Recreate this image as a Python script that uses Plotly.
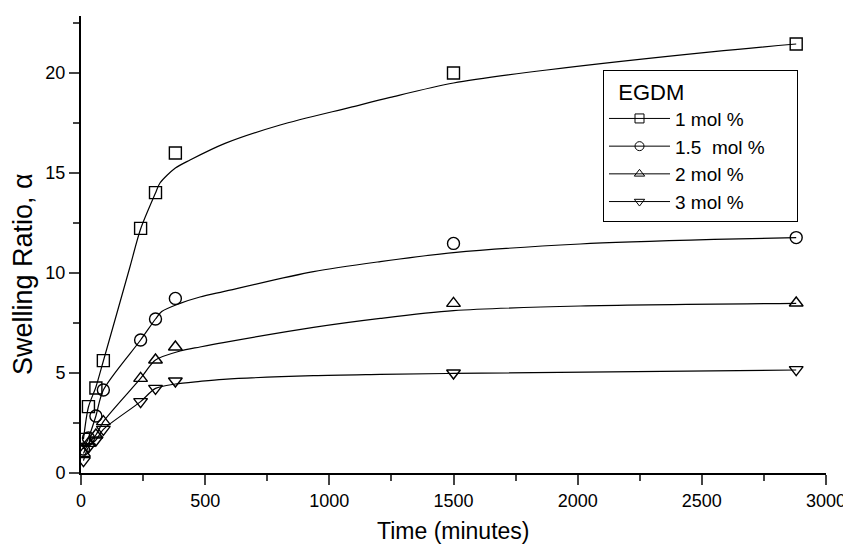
import plotly.graph_objects as go

# measured data points
time_min = [10, 30, 60, 90, 240, 300, 380, 1500, 2880]
egdm_1 = [1.68, 3.32, 4.25, 5.62, 12.23, 14.02, 16.0, 20.0, 21.45]
egdm_15 = [1.2, 1.75, 2.85, 4.15, 6.65, 7.7, 8.73, 11.48, 11.77]
egdm_2 = [0.98, 1.48, 1.9, 2.57, 4.73, 5.65, 6.3, 8.48, 8.5]
egdm_3 = [0.62, 1.3, 1.65, 2.18, 3.57, 4.23, 4.6, 5.0, 5.17]

# fitted curves
fit1_x = [10, 30, 60, 90, 197, 240, 300, 318, 380, 439, 580, 802, 1084, 1245, 1500, 1876, 2548, 2880]
fit1_y = [1.7, 3.3, 4.3, 5.6, 10.3, 12.2, 14.0, 14.5, 15.25, 15.65, 16.48, 17.4, 18.28, 18.78, 19.5, 20.15, 21.07, 21.45]
fit15_x = [10, 30, 60, 90, 240, 300, 325, 399, 479, 573, 936, 1205, 1500, 2010, 2548, 2880]
fit15_y = [1.2, 1.75, 2.85, 4.15, 6.65, 7.7, 8.07, 8.48, 8.8, 9.07, 10.07, 10.57, 11.02, 11.45, 11.68, 11.77]
fit2_x = [10, 30, 60, 90, 240, 300, 399, 479, 573, 936, 1205, 1500, 2010, 2880]
fit2_y = [0.98, 1.48, 1.9, 2.57, 4.73, 5.65, 6.1, 6.3, 6.52, 7.28, 7.73, 8.12, 8.35, 8.48]
fit3_x = [10, 30, 60, 90, 240, 300, 380, 479, 573, 936, 1205, 1500, 2880]
fit3_y = [0.62, 1.3, 1.65, 2.18, 3.57, 4.23, 4.45, 4.58, 4.68, 4.87, 4.93, 4.98, 5.15]

labels = ["1 mol %", "1.5\u00a0 mol %\u00a0\u00a0\u00a0\u00a0\u00a0", "2 mol %", "3 mol %"]
symbols = ["square-open", "circle-open", "triangle-up-open", "triangle-down-open"]
x_ticks = [0, 500, 1000, 1500, 2000, 2500, 3000]
y_ticks = [0, 5, 10, 15, 20]

series = [
    (egdm_1, fit1_x, fit1_y),
    (egdm_15, fit15_x, fit15_y),
    (egdm_2, fit2_x, fit2_y),
    (egdm_3, fit3_x, fit3_y),
]

# page body has an 8px margin; figure is sized so the plot area lands where the reference has it
OFF = 8
PL, PR, PT, PB = 81, 826, 16, 473  # plot area in window pixels
W, H = 851 - OFF, 544 - OFF

fig = go.Figure()
for (vals, fx, fy), sym in zip(series, symbols):
    fig.add_trace(go.Scatter(x=fx, y=fy, mode="lines", line=dict(color="black", width=1.2, shape="spline", smoothing=0.8),
                             showlegend=False, hoverinfo="skip"))
    fig.add_trace(go.Scatter(x=time_min, y=vals, mode="markers",
                             marker=dict(symbol=sym, size=12, color="black", line=dict(width=1.4, color="black")),
                             showlegend=False))
for lab, sym in zip(labels, symbols):
    fig.add_trace(go.Scatter(x=[None], y=[None], mode="lines+markers", name=lab,
                             line=dict(color="black", width=1),
                             marker=dict(symbol=sym, size=9, color="black", line=dict(width=1, color="black"))))

pw, ph = PR - PL, PB - PT
fig.update_layout(
    width=W, height=H,
    paper_bgcolor="white", plot_bgcolor="white",
    margin=dict(l=PL - OFF, r=W + OFF - PR, t=PT - OFF, b=H + OFF - PB),
    font=dict(family="Liberation Sans, Arial, sans-serif", color="black", size=18),
    legend=dict(
        title=dict(text="\u00a0\u00a0EGDM", font=dict(size=22)),
        font=dict(size=19),
        x=(603 - PL) / pw, y=1 - (70 - PT) / ph,
        xanchor="left", yanchor="top",
        bordercolor="black", borderwidth=1, bgcolor="white",
        tracegroupgap=0, itemwidth=61,
    ),
    annotations=[
        dict(text="Swelling Ratio, α", xref="paper", yref="paper", x=(23 - PL) / pw, y=(PB - 274) / ph,
             xanchor="center", yanchor="middle", textangle=-90, showarrow=False, font=dict(size=27)),
        dict(text="Time (minutes)", xref="paper", yref="paper", x=0.5, y=-(531 - PB) / ph,
             xanchor="center", yanchor="middle", showarrow=False, font=dict(size=23)),
    ],
)
fig.update_xaxes(
    range=[0, 3000], tickvals=x_ticks,
    ticks="outside", ticklen=10, tickwidth=1.5, showline=True, linewidth=2, linecolor="black",
    showgrid=False, zeroline=False, automargin=False,
    minor=dict(tickvals=[250, 750, 1250, 1750, 2250, 2750], ticks="outside", ticklen=6, tickwidth=1.5),
    tickfont=dict(size=18),
)
fig.update_yaxes(
    range=[0, (PB - PT) / 20], tickvals=y_ticks,
    ticks="outside", ticklen=10, tickwidth=1.5, showline=True, linewidth=2, linecolor="black",
    showgrid=False, zeroline=False, automargin=False,
    minor=dict(tickvals=[2.5, 7.5, 12.5, 17.5, 22.5], ticks="outside", ticklen=6, tickwidth=1.5),
    tickfont=dict(size=18),
)
fig.write_html("out.html")
